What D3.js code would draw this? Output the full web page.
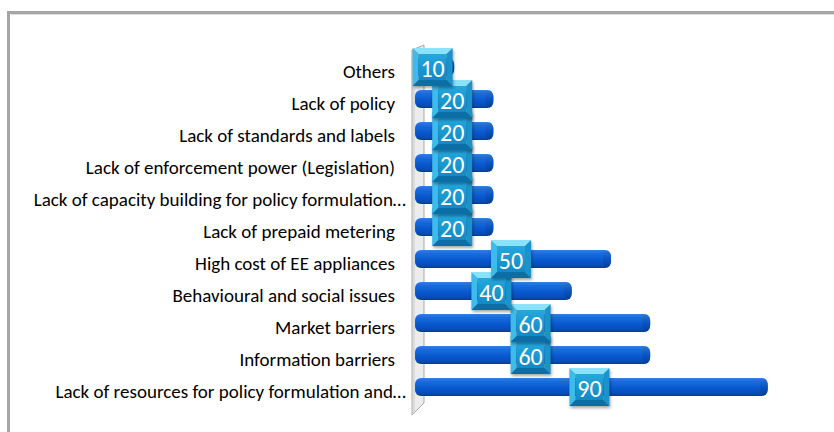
<!DOCTYPE html>
<html>
<head>
<meta charset="utf-8">
<script src="https://cdn.jsdelivr.net/npm/d3@7"></script>
<style>
  html, body { margin: 0; padding: 0; background: #fff; }
  svg { display: block; }
</style>
</head>
<body>
<svg id="chart" width="834" height="432"></svg>
<script>
// Barriers to energy efficiency, listed bottom to top as in the source sheet
const categories = [
  "Lack of resources for policy formulation and…",
  "Information barriers",
  "Market barriers",
  "Behavioural and social issues",
  "High cost of EE appliances",
  "Lack of prepaid metering",
  "Lack of capacity building for policy formulation…",
  "Lack of enforcement power (Legislation)",
  "Lack of standards and labels",
  "Lack of policy",
  "Others"
];
const values = [90, 60, 60, 40, 50, 20, 20, 20, 20, 20, 10];

const svg = d3.select("#chart");
const W = 834, H = 432;
const font = "Carlito, Lato, 'Liberation Sans', sans-serif";

const defs = svg.append("defs");

// cylinder shading for the bars
const barGrad = defs.append("linearGradient")
  .attr("id", "barGrad").attr("x1", 0).attr("y1", 0).attr("x2", 0).attr("y2", 1);
[[0, "#2f7fe2"], [0.2, "#1a6cdc"], [0.55, "#085ad0"], [0.85, "#084db8"], [1, "#063c90"]]
  .forEach(([o, c]) => barGrad.append("stop").attr("offset", o).attr("stop-color", c));

const capGrad = defs.append("linearGradient")
  .attr("id", "capGrad").attr("x1", 0).attr("y1", 0).attr("x2", 0).attr("y2", 1);
[[0, "#2a72d0"], [0.5, "#0a52bc"], [1, "#073c8c"]]
  .forEach(([o, c]) => capGrad.append("stop").attr("offset", o).attr("stop-color", c));

const faceGrad = defs.append("linearGradient")
  .attr("id", "faceGrad").attr("x1", 0).attr("y1", 0).attr("x2", 0).attr("y2", 1);
[[0, "#24a8de"], [1, "#1488c4"]]
  .forEach(([o, c]) => faceGrad.append("stop").attr("offset", o).attr("stop-color", c));

const shadow = defs.append("filter").attr("id", "shadow")
  .attr("x", "-30%").attr("y", "-30%").attr("width", "160%").attr("height", "160%");
shadow.append("feGaussianBlur").attr("stdDeviation", 1.6);

// outer frame (runs past the right and bottom edges)
svg.append("rect").attr("x", 8.5).attr("y", 12.5).attr("width", 900).attr("height", 500)
  .attr("fill", "none").attr("stroke", "#a6a6a6").attr("stroke-width", 3);
svg.append("line").attr("x1", 11).attr("x2", W).attr("y1", 14.5).attr("y2", 14.5)
  .attr("stroke", "#dcdcdc").attr("stroke-width", 1);

// scales
const y = d3.scaleBand()
  .domain(categories.slice().reverse())
  .range([55, 407])
  .paddingInner(0).paddingOuter(0);
const x = d3.scaleLinear().domain([0, 100]).range([415, 807]);

const barH = 18;
const lift = 4;          // 3D depth lifts bars above the label centre
const depth = 12;

// back wall of the category axis
const x0 = x(0);
const wallTop = y.range()[0] - 9, wallBot = y.range()[1] + 8;
svg.append("polygon")
  .attr("points", [
    [x0 - 3, wallTop + 4], [x0 - 3 + depth, wallTop - 1],
    [x0 - 3 + depth, wallBot - 12], [x0 - 3, wallBot]
  ].map(p => p.join(",")).join(" "))
  .attr("fill", "#ececec").attr("stroke", "#a9a9a9").attr("stroke-width", 1);
svg.append("line")
  .attr("x1", x0 - 1).attr("x2", x0 - 1)
  .attr("y1", wallTop + 4).attr("y2", wallBot - 1)
  .attr("stroke", "#c8c8c8").attr("stroke-width", 1);

// category labels
const yAxis = d3.axisLeft(y).tickSize(0).tickPadding(0);
const axisG = svg.append("g").attr("transform", `translate(${x0 - 20},0)`).call(yAxis);
axisG.select(".domain").remove();
axisG.selectAll("text")
  .attr("font-family", font).attr("font-size", 19).attr("fill", "#000")
  .attr("dy", "0.35em")
  .attr("dx", d => d.endsWith("…") ? 11 : 0);

const rows = categories.map((c, i) => ({ c, v: values[i] }));

// bars
const bars = svg.append("g").selectAll("g").data(rows).join("g");
bars.append("rect")
  .attr("x", d => x(0))
  .attr("y", d => y(d.c) + y.bandwidth() / 2 - lift - barH / 2)
  .attr("width", d => x(d.v) - x(0))
  .attr("height", barH)
  .attr("rx", 6).attr("ry", 6)
  .attr("fill", "url(#barGrad)");
bars.append("ellipse")
  .attr("cx", d => x(d.v) - 4)
  .attr("cy", d => y(d.c) + y.bandwidth() / 2 - lift)
  .attr("rx", 4).attr("ry", barH / 2 - 0.5)
  .attr("fill", "url(#capGrad)").attr("opacity", 0.8);

// bevelled value labels
const bw = 40, bh = 38, bev = 6;
const labels = svg.append("g").selectAll("g").data(rows).join("g")
  .attr("transform", d => {
    const cx = (x(0) + x(d.v)) / 2 - 2;
    const cy = y(d.c) + y.bandwidth() / 2 - lift;
    return `translate(${cx - bw / 2},${cy - bh / 2})`;
  });
labels.append("rect").attr("x", 1).attr("y", 2).attr("width", bw).attr("height", bh)
  .attr("fill", "#000").attr("opacity", 0.35).attr("filter", "url(#shadow)");
const facet = (pts, fill) => labels.append("polygon")
  .attr("points", pts.map(p => p.join(",")).join(" ")).attr("fill", fill);
facet([[0, 0], [bw, 0], [bw - bev, bev], [bev, bev]], "#8ae2fb");
facet([[0, 0], [bev, bev], [bev, bh - bev], [0, bh]], "#3dbbea");
facet([[bw, 0], [bw, bh], [bw - bev, bh - bev], [bw - bev, bev]], "#1a93cc");
facet([[0, bh], [bev, bh - bev], [bw - bev, bh - bev], [bw, bh]], "#0c6ea6");
labels.append("rect").attr("x", bev).attr("y", bev)
  .attr("width", bw - 2 * bev).attr("height", bh - 2 * bev)
  .attr("fill", "url(#faceGrad)");
labels.append("text")
  .attr("x", bw / 2).attr("y", bh / 2 + 1)
  .attr("dy", "0.36em")
  .attr("text-anchor", "middle")
  .attr("font-family", font)
  .style("font-size", "24px")
  .attr("fill", "#fff")
  .text(d => d.v);
</script>
</body>
</html>
